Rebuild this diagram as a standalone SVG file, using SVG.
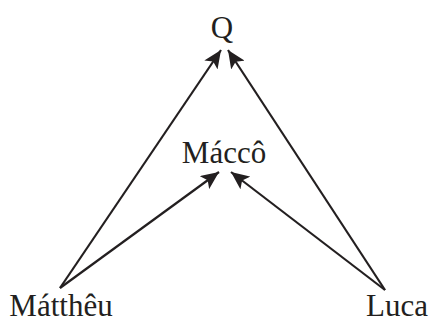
<svg xmlns="http://www.w3.org/2000/svg" width="431" height="325" viewBox="0 0 431 325">
<style>
text{font-family:"Liberation Serif","Times New Roman",serif;font-size:31px;fill:#231f20;text-anchor:middle}
.e{stroke:#231f20;stroke-width:2.2;fill:none;marker-end:url(#ah)}
</style>
<defs>
<marker id="ah" markerUnits="userSpaceOnUse" markerWidth="20" markerHeight="16" viewBox="0 0 20 16" refX="18" refY="8" orient="auto">
<path d="M0,0 L18,8 L0,16 L4,8 Z" fill="#231f20"/>
</marker>
</defs>
<rect width="431" height="325" fill="#fff"/>
<g id="edges">
<path class="e" d="M60,288 L221,50"/>
<path class="e" d="M60,288 L219,172"/>
<path class="e" d="M385,290 L228,50"/>
<path class="e" d="M385,290 L231,172"/>
</g>
<g id="Q"><text x="222" y="38" font-size="33">Q</text></g>
<g id="Macco"><text x="224" y="163">Máccô</text></g>
<g id="Matthew"><text x="61" y="316">Mátthêu</text></g>
<g id="Luca"><text x="397" y="316">Luca</text></g>
</svg>
